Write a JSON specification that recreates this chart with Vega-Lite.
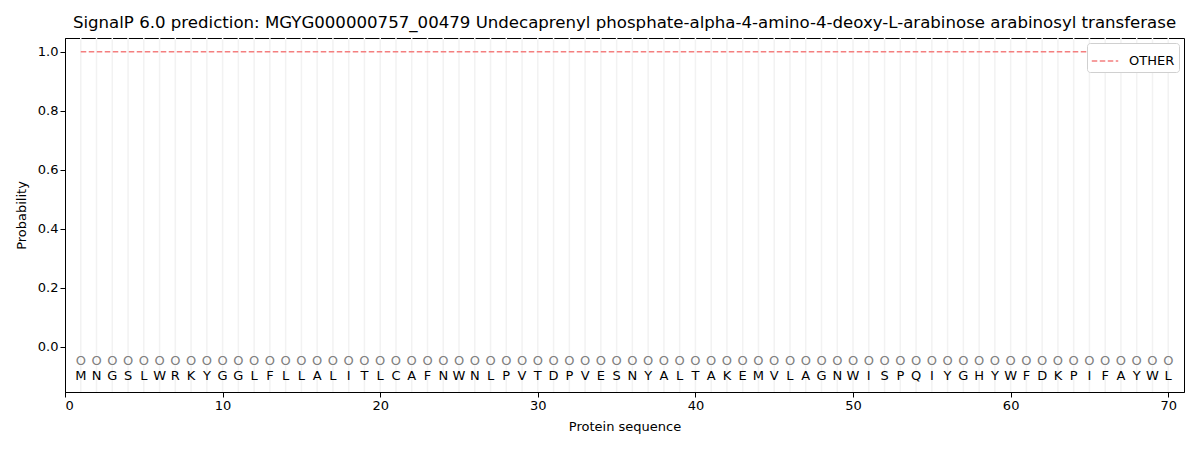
{
  "$schema": "https://vega.github.io/schema/vega-lite/v6.json",
  "width": 1119,
  "height": 354,
  "autosize": "none",
  "padding": {"left": 65, "top": 38, "right": 16, "bottom": 58},
  "background": "white",
  "config": {
    "font": "DejaVu Sans",
    "view": {"stroke": "black", "strokeWidth": 1},
    "axis": {
      "grid": false,
      "domainColor": "black",
      "tickColor": "black",
      "labelColor": "black",
      "titleColor": "black",
      "labelFontSize": 13,
      "titleFontSize": 13,
      "titleFontWeight": "normal",
      "tickSize": 5
    }
  },
  "title": {
    "text": "SignalP 6.0 prediction: MGYG000000757_00479 Undecaprenyl phosphate-alpha-4-amino-4-deoxy-L-arabinose arabinosyl transferase",
    "fontSize": 16.6,
    "fontWeight": "normal",
    "color": "black",
    "anchor": "middle",
    "offset": 6
  },
  "data": {
    "values": [
      {"pos": 1, "aa": "M", "prob": 1.0, "label": "OTHER"},
      {"pos": 2, "aa": "N", "prob": 1.0, "label": "OTHER"},
      {"pos": 3, "aa": "G", "prob": 1.0, "label": "OTHER"},
      {"pos": 4, "aa": "S", "prob": 1.0, "label": "OTHER"},
      {"pos": 5, "aa": "L", "prob": 1.0, "label": "OTHER"},
      {"pos": 6, "aa": "W", "prob": 1.0, "label": "OTHER"},
      {"pos": 7, "aa": "R", "prob": 1.0, "label": "OTHER"},
      {"pos": 8, "aa": "K", "prob": 1.0, "label": "OTHER"},
      {"pos": 9, "aa": "Y", "prob": 1.0, "label": "OTHER"},
      {"pos": 10, "aa": "G", "prob": 1.0, "label": "OTHER"},
      {"pos": 11, "aa": "G", "prob": 1.0, "label": "OTHER"},
      {"pos": 12, "aa": "L", "prob": 1.0, "label": "OTHER"},
      {"pos": 13, "aa": "F", "prob": 1.0, "label": "OTHER"},
      {"pos": 14, "aa": "L", "prob": 1.0, "label": "OTHER"},
      {"pos": 15, "aa": "L", "prob": 1.0, "label": "OTHER"},
      {"pos": 16, "aa": "A", "prob": 1.0, "label": "OTHER"},
      {"pos": 17, "aa": "L", "prob": 1.0, "label": "OTHER"},
      {"pos": 18, "aa": "I", "prob": 1.0, "label": "OTHER"},
      {"pos": 19, "aa": "T", "prob": 1.0, "label": "OTHER"},
      {"pos": 20, "aa": "L", "prob": 1.0, "label": "OTHER"},
      {"pos": 21, "aa": "C", "prob": 1.0, "label": "OTHER"},
      {"pos": 22, "aa": "A", "prob": 1.0, "label": "OTHER"},
      {"pos": 23, "aa": "F", "prob": 1.0, "label": "OTHER"},
      {"pos": 24, "aa": "N", "prob": 1.0, "label": "OTHER"},
      {"pos": 25, "aa": "W", "prob": 1.0, "label": "OTHER"},
      {"pos": 26, "aa": "N", "prob": 1.0, "label": "OTHER"},
      {"pos": 27, "aa": "L", "prob": 1.0, "label": "OTHER"},
      {"pos": 28, "aa": "P", "prob": 1.0, "label": "OTHER"},
      {"pos": 29, "aa": "V", "prob": 1.0, "label": "OTHER"},
      {"pos": 30, "aa": "T", "prob": 1.0, "label": "OTHER"},
      {"pos": 31, "aa": "D", "prob": 1.0, "label": "OTHER"},
      {"pos": 32, "aa": "P", "prob": 1.0, "label": "OTHER"},
      {"pos": 33, "aa": "V", "prob": 1.0, "label": "OTHER"},
      {"pos": 34, "aa": "E", "prob": 1.0, "label": "OTHER"},
      {"pos": 35, "aa": "S", "prob": 1.0, "label": "OTHER"},
      {"pos": 36, "aa": "N", "prob": 1.0, "label": "OTHER"},
      {"pos": 37, "aa": "Y", "prob": 1.0, "label": "OTHER"},
      {"pos": 38, "aa": "A", "prob": 1.0, "label": "OTHER"},
      {"pos": 39, "aa": "L", "prob": 1.0, "label": "OTHER"},
      {"pos": 40, "aa": "T", "prob": 1.0, "label": "OTHER"},
      {"pos": 41, "aa": "A", "prob": 1.0, "label": "OTHER"},
      {"pos": 42, "aa": "K", "prob": 1.0, "label": "OTHER"},
      {"pos": 43, "aa": "E", "prob": 1.0, "label": "OTHER"},
      {"pos": 44, "aa": "M", "prob": 1.0, "label": "OTHER"},
      {"pos": 45, "aa": "V", "prob": 1.0, "label": "OTHER"},
      {"pos": 46, "aa": "L", "prob": 1.0, "label": "OTHER"},
      {"pos": 47, "aa": "A", "prob": 1.0, "label": "OTHER"},
      {"pos": 48, "aa": "G", "prob": 1.0, "label": "OTHER"},
      {"pos": 49, "aa": "N", "prob": 1.0, "label": "OTHER"},
      {"pos": 50, "aa": "W", "prob": 1.0, "label": "OTHER"},
      {"pos": 51, "aa": "I", "prob": 1.0, "label": "OTHER"},
      {"pos": 52, "aa": "S", "prob": 1.0, "label": "OTHER"},
      {"pos": 53, "aa": "P", "prob": 1.0, "label": "OTHER"},
      {"pos": 54, "aa": "Q", "prob": 1.0, "label": "OTHER"},
      {"pos": 55, "aa": "I", "prob": 1.0, "label": "OTHER"},
      {"pos": 56, "aa": "Y", "prob": 1.0, "label": "OTHER"},
      {"pos": 57, "aa": "G", "prob": 1.0, "label": "OTHER"},
      {"pos": 58, "aa": "H", "prob": 1.0, "label": "OTHER"},
      {"pos": 59, "aa": "Y", "prob": 1.0, "label": "OTHER"},
      {"pos": 60, "aa": "W", "prob": 1.0, "label": "OTHER"},
      {"pos": 61, "aa": "F", "prob": 1.0, "label": "OTHER"},
      {"pos": 62, "aa": "D", "prob": 1.0, "label": "OTHER"},
      {"pos": 63, "aa": "K", "prob": 1.0, "label": "OTHER"},
      {"pos": 64, "aa": "P", "prob": 1.0, "label": "OTHER"},
      {"pos": 65, "aa": "I", "prob": 1.0, "label": "OTHER"},
      {"pos": 66, "aa": "F", "prob": 1.0, "label": "OTHER"},
      {"pos": 67, "aa": "A", "prob": 1.0, "label": "OTHER"},
      {"pos": 68, "aa": "Y", "prob": 1.0, "label": "OTHER"},
      {"pos": 69, "aa": "W", "prob": 1.0, "label": "OTHER"},
      {"pos": 70, "aa": "L", "prob": 1.0, "label": "OTHER"}
    ]
  },
  "layer": [
    {
      "mark": {"type": "rule", "color": "#f2f2f2", "strokeWidth": 1.5},
      "encoding": {
        "x": {"field": "pos", "type": "quantitative"}
      }
    },
    {
      "mark": {"type": "line", "strokeDash": [5.5, 2.5], "strokeWidth": 1.5},
      "encoding": {
        "x": {
          "field": "pos",
          "type": "quantitative",
          "scale": {"domain": [0, 71], "nice": false, "zero": false},
          "axis": {"title": "Protein sequence", "values": [0, 10, 20, 30, 40, 50, 60, 70], "titlePadding": 8}
        },
        "y": {
          "field": "prob",
          "type": "quantitative",
          "scale": {"domain": [-0.153, 1.047], "nice": false, "zero": false},
          "axis": {"title": "Probability", "values": [0, 0.2, 0.4, 0.6, 0.8, 1.0], "format": ".1f", "titlePadding": 9}
        },
        "color": {
          "field": "label",
          "type": "nominal",
          "scale": {"range": ["#f47f7f"]},
          "legend": {
            "title": null,
            "orient": "top-right",
            "symbolType": "stroke",
            "symbolDash": [5.5, 2.5],
            "symbolStrokeWidth": 1.5,
            "symbolSize": 700,
            "labelFontSize": 13,
            "labelColor": "black",
            "labelOffset": 10,
            "strokeColor": "#d0d0d0",
            "fillColor": "white",
            "cornerRadius": 3,
            "padding": 4,
            "offset": 5
          }
        }
      }
    },
    {
      "mark": {"type": "text", "text": "O", "color": "#808080", "fontSize": 13, "baseline": "middle"},
      "encoding": {
        "x": {"field": "pos", "type": "quantitative"},
        "y": {"datum": -0.047}
      }
    },
    {
      "mark": {"type": "text", "color": "black", "fontSize": 13, "baseline": "middle"},
      "encoding": {
        "x": {"field": "pos", "type": "quantitative"},
        "y": {"datum": -0.098},
        "text": {"field": "aa"}
      }
    }
  ]
}
